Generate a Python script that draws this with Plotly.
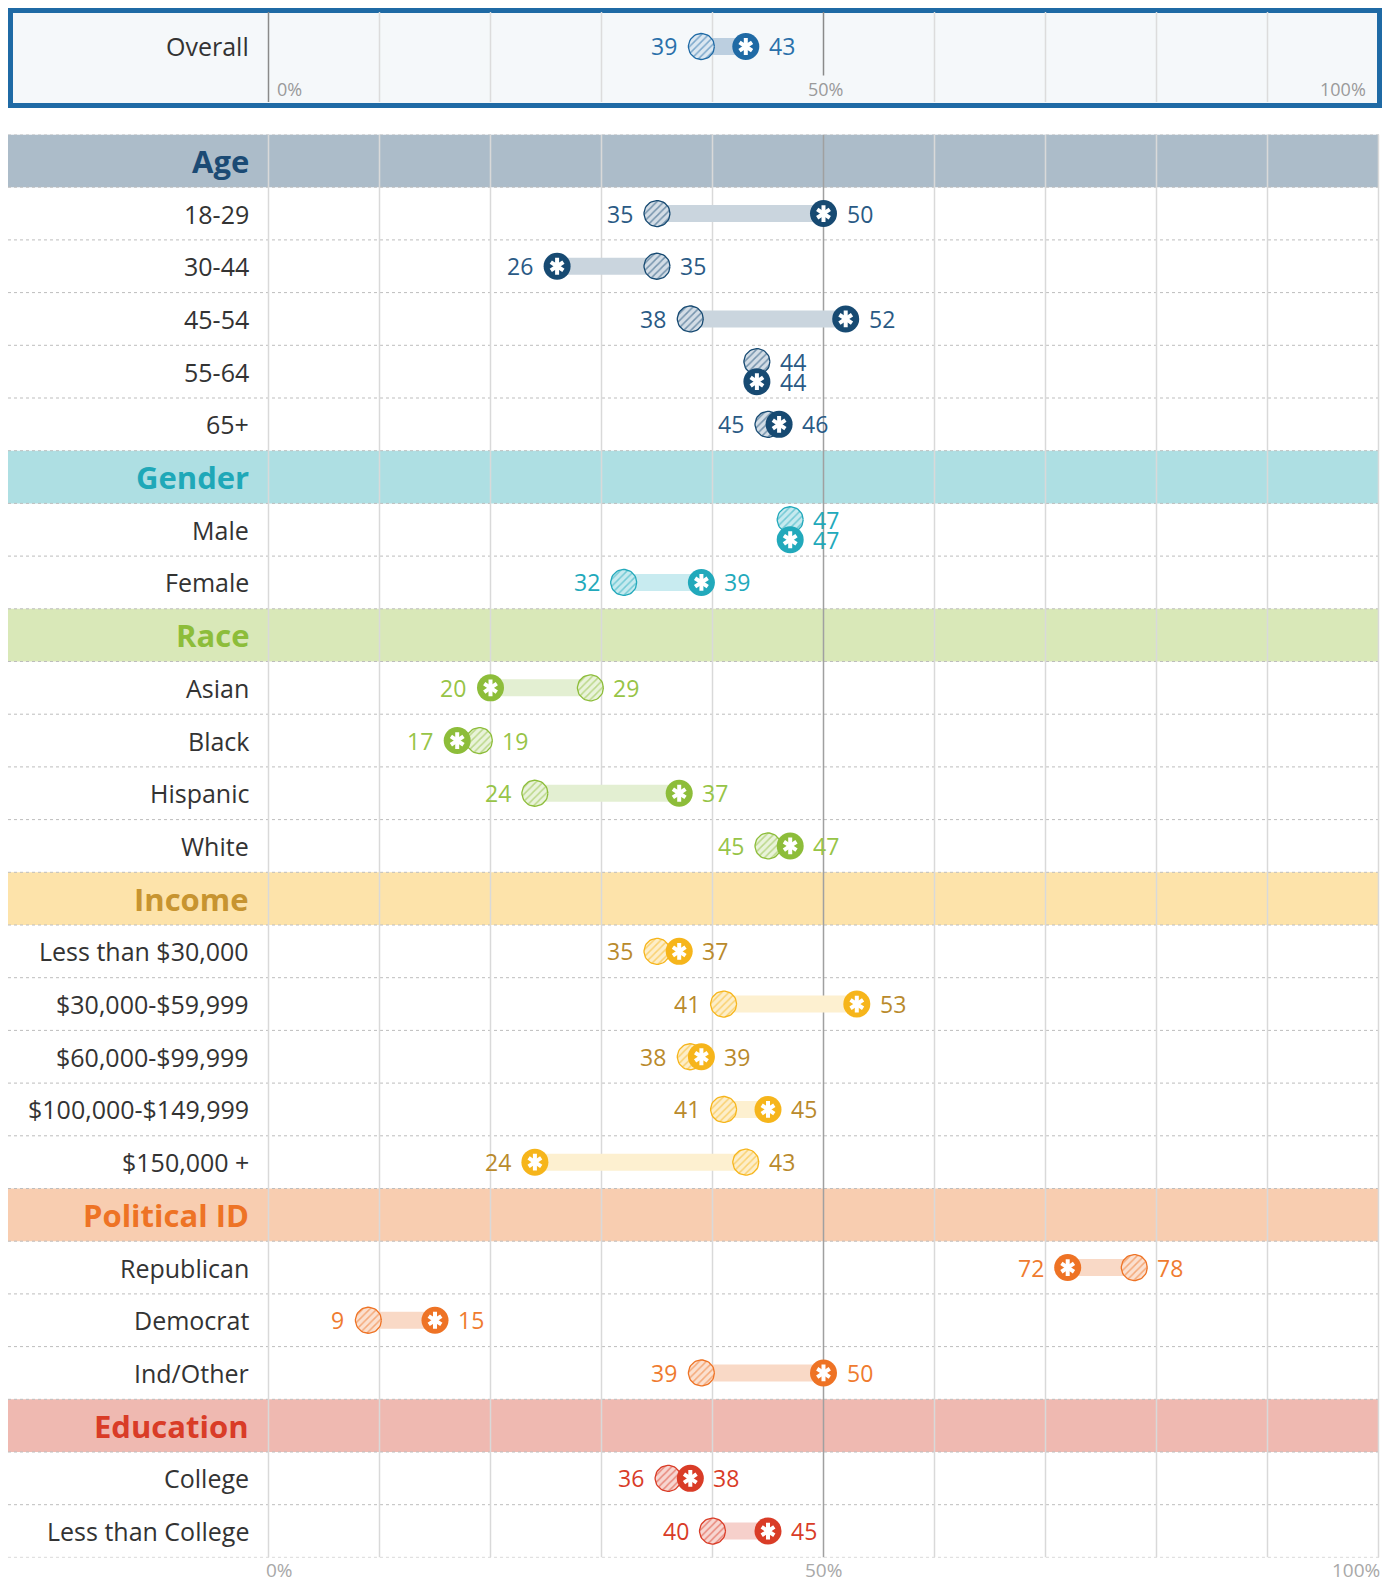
import numpy as np
import plotly.graph_objects as go

# ---------------- data ----------------
overall_hatched = 39
overall_star = 43

groups = ["Age", "Gender", "Race", "Income", "Political ID", "Education"]

age_cats = ["18-29", "30-44", "45-54", "55-64", "65+"]
age_hatched = [35, 35, 38, 44, 45]
age_star = [50, 26, 52, 44, 46]

gender_cats = ["Male", "Female"]
gender_hatched = [47, 32]
gender_star = [47, 39]

race_cats = ["Asian", "Black", "Hispanic", "White"]
race_hatched = [29, 19, 24, 45]
race_star = [20, 17, 37, 47]

income_cats = ["Less than $30,000", "$30,000-$59,999", "$60,000-$99,999",
               "$100,000-$149,999", "$150,000 +"]
income_hatched = [35, 41, 38, 41, 43]
income_star = [37, 53, 39, 45, 24]

political_cats = ["Republican", "Democrat", "Ind/Other"]
political_hatched = [78, 9, 39]
political_star = [72, 15, 50]

education_cats = ["College", "Less than College"]
education_hatched = [36, 40]
education_star = [38, 45]

tick_vals = [0, 50, 100]
tick_text = ["0%", "50%", "100%"]

# ---------------- styles ----------------
group_data = {
    "Age": (age_cats, age_hatched, age_star),
    "Gender": (gender_cats, gender_hatched, gender_star),
    "Race": (race_cats, race_hatched, race_star),
    "Income": (income_cats, income_hatched, income_star),
    "Political ID": (political_cats, political_hatched, political_star),
    "Education": (education_cats, education_hatched, education_star),
}
styles = {
    "Overall": dict(main="#1f6aa5", bar="#bccfe0", band=None, head=None, label="#2a70aa", tint="#dbe7f1"),
    "Age": dict(main="#174a72", bar="#cad5de", band="#acbcc9", head="#1b4a74", label="#2a5a85", tint="#d3dde6"),
    "Gender": dict(main="#22a9bb", bar="#c8ebf0", band="#aedfe3", head="#1fa8b8", label="#22a9bb", tint="#c6eaef"),
    "Race": dict(main="#8dbd3a", bar="#e3efd2", band="#d9e8b8", head="#8dbd3a", label="#97c447", tint="#e9f3da"),
    "Income": dict(main="#f6b51b", bar="#fdf0d0", band="#fde3aa", head="#c79430", label="#b98a2c", tint="#fdeec9"),
    "Political ID": dict(main="#ee7325", bar="#f9d9c6", band="#f8cdb0", head="#ee7325", label="#ef7b2f", tint="#fbe0cf"),
    "Education": dict(main="#d93c27", bar="#f6d0cb", band="#efb9b1", head="#d93c27", label="#d93c27", tint="#f7d6d1"),
}

FONT = "Open Sans"
OFF = 8                          # page body margin
W, H = 1393 - OFF, 1585 - OFF
PX0, PXU = 268.5, 11.1          # page pixel of 0% and pixels per percentage point
TOP, ROWH = 134.5, 52.7         # main table top and row height (page px)
LEFT_PX, RIGHT_PX = 8, 1379
BOX_T, BOX_B = 12, 102          # overall box plot area
R = 13                          # marker radius in px
STACK = 10                      # vertical offset for equal values

# rows
rows = []
for g in groups:
    rows.append(("head", g, None, None))
    cats, hv, sv = group_data[g]
    for c, h, s in zip(cats, hv, sv):
        rows.append(("row", g, c, (h, s)))
N = len(rows)


def px(x):
    return (x - OFF) / W


def py(y):
    return 1 - (y - OFF) / H


x_dom = [px(PX0 - PXU), px(PX0 + 101 * PXU)]
y_dom = [py(TOP + N * ROWH), py(TOP)]
y2_dom = [py(BOX_B), py(BOX_T)]

fig = go.Figure()
shapes = []
annotations = []

# --- overall box ---
shapes.append(dict(type="rect", xref="paper", yref="paper", x0=px(10.5), x1=px(1379.5),
                   y0=py(105.5), y1=py(10.5), line=dict(color="#1f6aa5", width=5),
                   fillcolor="#f5f8fa", layer="below"))
for v in range(0, 100, 10):
    col = "#8a8a8a" if v in (0, 50) else "#dcdcdc"
    shapes.append(dict(type="line", xref="x2", yref="y2", x0=v, x1=v, y0=0, y1=1,
                       line=dict(color=col, width=1.5), layer="below"))

# --- main gridlines ---
for v in range(0, 101, 10):
    col = "#a0a0a0" if v == 50 else "#d9d9d9"
    shapes.append(dict(type="line", xref="x", yref="y", x0=v, x1=v, y0=-0.5, y1=N - 0.5,
                       line=dict(color=col, width=1.5), layer="below"))
# bands
for i, r in enumerate(rows):
    if r[0] == "head":
        shapes.append(dict(type="rect", xref="paper", yref="y", x0=px(LEFT_PX), x1=px(RIGHT_PX),
                           y0=i - 0.5, y1=i + 0.5, fillcolor=styles[r[1]]["band"],
                           line=dict(width=0), layer="below"))
# dashed separators
for i in range(N + 1):
    shapes.append(dict(type="line", xref="paper", yref="y", x0=px(LEFT_PX), x1=px(RIGHT_PX),
                       y0=i - 0.5, y1=i - 0.5, line=dict(color="#bdbdbd", width=1, dash="dot"),
                       layer="below"))


def circle_poly(xc, yc, ry):
    t = np.linspace(0, 2 * np.pi, 48)
    return list(xc + (R / PXU) * np.cos(t)), list(yc + ry * np.sin(t))


def add_series(key, items, xa, ya, ry_unit):
    """items: list of (y, hatched, star)"""
    st = styles[key]
    lf = dict(family=FONT, size=23, color=st["label"])
    bx, by, hx, hy, sx, sy = [], [], [], [], [], []
    for (yc, h, s) in items:
        if h == s:
            yh, ys = yc - STACK * ry_unit, yc + STACK * ry_unit
        else:
            yh = ys = yc
            bx += [h, s, None]
            by += [yc, yc, None]
        cx, cy = circle_poly(h, yh, R * ry_unit)
        hx += cx + [None]
        hy += cy + [None]
        sx.append(s)
        sy.append(ys)
        # labels
        if h == s:
            annotations.append(dict(x=h, y=yh, xref=xa, yref=ya, text=str(h), showarrow=False,
                                    xanchor="left", xshift=R + 8, font=lf))
            annotations.append(dict(x=s, y=ys, xref=xa, yref=ya, text=str(s), showarrow=False,
                                    xanchor="left", xshift=R + 8, font=lf))
        else:
            lo, hi = min(h, s), max(h, s)
            annotations.append(dict(x=lo, y=yc, xref=xa, yref=ya, text=str(lo), showarrow=False,
                                    xanchor="right", xshift=-(R + 9), font=lf))
            annotations.append(dict(x=hi, y=yc, xref=xa, yref=ya, text=str(hi), showarrow=False,
                                    xanchor="left", xshift=R + 8, font=lf))
    if bx:
        fig.add_trace(go.Scatter(x=bx, y=by, mode="lines", xaxis=xa, yaxis=ya,
                                 line=dict(color=st["bar"], width=17), hoverinfo="skip", showlegend=False))
    fig.add_trace(go.Scatter(x=hx, y=hy, mode="lines", fill="toself", xaxis=xa, yaxis=ya,
                             line=dict(color=st["main"], width=1.3),
                             fillcolor=st["tint"],
                             fillpattern=dict(shape="/", fgcolor=st["main"], bgcolor=st["tint"],
                                              size=5, solidity=0.3),
                             hoverinfo="skip", showlegend=False))
    fig.add_trace(go.Scatter(x=sx, y=sy, mode="markers", xaxis=xa, yaxis=ya,
                             marker=dict(symbol="circle", size=2 * R + 1, color=st["main"], line=dict(width=0)),
                             hoverinfo="skip", showlegend=False))
    for sym in ("y-up-open", "y-down-open"):
        fig.add_trace(go.Scatter(x=sx, y=sy, mode="markers", xaxis=xa, yaxis=ya,
                                 marker=dict(symbol=sym, size=10.5, color="white",
                                             line=dict(color="white", width=4)),
                                 hoverinfo="skip", showlegend=False))


# overall
ov_y = (BOX_B - 46.5) / (BOX_B - BOX_T)
add_series("Overall", [(ov_y, overall_hatched, overall_star)], "x2", "y2", 1 / (BOX_B - BOX_T))
annotations.append(dict(x=px(251), y=ov_y, xref="paper", yref="y2", text="Overall", showarrow=False,
                        xanchor="right", font=dict(family=FONT, size=25, color="#333333")))

# groups
for g in groups:
    items = []
    for i, r in enumerate(rows):
        if r[0] == "row" and r[1] == g:
            items.append((i, r[3][0], r[3][1]))
    add_series(g, items, "x", "y", 1 / ROWH)

# row labels
for i, r in enumerate(rows):
    if r[0] == "head":
        annotations.append(dict(x=px(251), y=i, xref="paper", yref="y", text="<b>%s</b>" % r[1],
                                showarrow=False, xanchor="right",
                                font=dict(family=FONT, size=31, color=styles[r[1]]["head"])))
    else:
        annotations.append(dict(x=px(251), y=i, xref="paper", yref="y", text=r[2],
                                showarrow=False, xanchor="right",
                                font=dict(family=FONT, size=25, color="#333333")))

# tick labels: main (bottom)
anchors = ["left", "center", "right"]
for v, t, a in zip(tick_vals, tick_text, anchors):
    annotations.append(dict(x=v, y=py(1570), xref="x", yref="paper", text=t, showarrow=False,
                            xanchor=a, yanchor="middle", borderpad=0,
                            xshift=(-3 if a == "left" else (3 if a == "right" else 0)),
                            font=dict(family=FONT, size=19, color="#a8a8a8")))
# tick labels: overall box
shifts = [7, 2, -10]
for v, t, a, s in zip(tick_vals, tick_text, anchors, shifts):
    annotations.append(dict(x=v, y=py(89), xref="x2", yref="paper", text=t, showarrow=False,
                            xanchor=a, yanchor="middle", xshift=s, bgcolor="#f5f8fa" if v == 50 else None,
                            font=dict(family=FONT, size=18, color="#9a9a9a")))

axis_common = dict(showgrid=False, zeroline=False, showticklabels=False, showline=False, fixedrange=True)
fig.update_layout(
    width=W, height=H,
    margin=dict(l=0, r=0, t=0, b=0),
    paper_bgcolor="white",
    plot_bgcolor="rgba(0,0,0,0)",
    showlegend=False,
    xaxis=dict(domain=x_dom, range=[-1, 101], anchor="y", **axis_common),
    yaxis=dict(domain=y_dom, range=[N - 0.5, -0.5], anchor="x", **axis_common),
    xaxis2=dict(domain=x_dom, range=[-1, 101], anchor="y2", **axis_common),
    yaxis2=dict(domain=y2_dom, range=[0, 1], anchor="x2", **axis_common),
    shapes=shapes,
    annotations=annotations,
    font=dict(family=FONT),
)

fig.write_html("out.html")
